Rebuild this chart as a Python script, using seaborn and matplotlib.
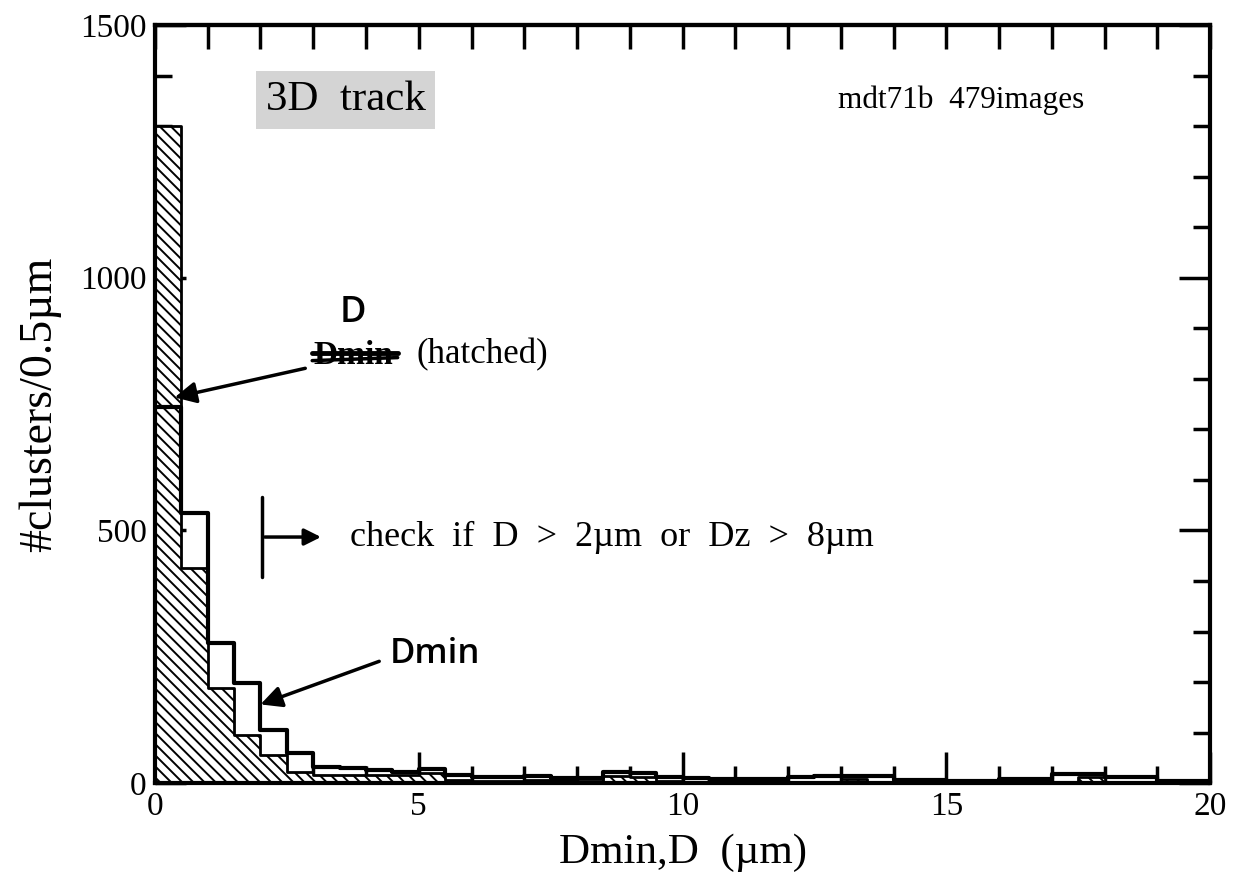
import numpy as np
import pandas as pd
import matplotlib
matplotlib.use('Agg')
import matplotlib.pyplot as plt
import seaborn as sns

# bin layout: 0.5 um bins from 0 to 20 um
bin_width = 0.5
bin_edges = list(np.arange(0, 20 + bin_width, bin_width))

# counts per bin
# D (hatched histogram)
d_counts = [1300, 426, 188, 95, 55, 22, 16, 16, 16, 16,
            20, 6, 4, 4, 6, 6, 4, 14, 12, 4,
            2, 2, 2, 2, 3, 3, 8, 3, 2, 2,
            2, 2, 2, 2, 3, 12, 3, 2, 2, 2]
# Dmin (open histogram)
dmin_counts = [745, 535, 277, 198, 105, 59, 32, 30, 26, 22,
               28, 16, 12, 12, 14, 10, 10, 22, 20, 12,
               10, 8, 8, 8, 12, 14, 14, 14, 6, 6,
               4, 4, 8, 8, 18, 18, 12, 12, 4, 4]

df = pd.DataFrame({
    'pos': np.array(bin_edges[:-1]) + bin_width / 2,
    'D': d_counts,
    'Dmin': dmin_counts,
})

sns.set_style('ticks')
plt.rcParams['font.family'] = ['Liberation Serif', 'DejaVu Serif']
plt.rcParams['hatch.linewidth'] = 1.4
plt.rcParams['hatch.color'] = 'black'
# plain black like the scanned plot
for k in ['text.color', 'axes.labelcolor', 'axes.edgecolor', 'xtick.color', 'ytick.color']:
    plt.rcParams[k] = 'black'

fig = plt.figure(figsize=(12.34, 8.8), dpi=100)
ax = fig.add_axes([0.1256, 0.110, 0.855, 0.8616])

# hatched D histogram
sns.histplot(data=df, x='pos', weights='D', bins=bin_edges, element='step',
             fill=True, color='white', edgecolor='black', linewidth=2,
             hatch='\\\\\\', alpha=1, ax=ax)
# open Dmin histogram
sns.histplot(data=df, x='pos', weights='Dmin', bins=bin_edges, element='step',
             fill=False, color='black', linewidth=3, ax=ax)

ax.set_xlim(0, 20)
ax.set_ylim(0, 1500)
ax.set_xticks([0, 5, 10, 15, 20])
ax.set_xticks(np.arange(0, 21, 1), minor=True)
ax.set_yticks([0, 500, 1000, 1500])
ax.set_yticks(np.arange(0, 1501, 100), minor=True)
ax.tick_params(which='major', direction='in', length=22, width=2.5,
               labelsize=24, top=False, right=True, pad=6)
ax.tick_params(which='minor', direction='in', length=12, width=2.5,
               top=False, right=True)
for s in ax.spines.values():
    s.set_linewidth(3)

# top axis: equal ticks every 1 um
sec = ax.secondary_xaxis('top')
sec.set_xticks(np.arange(0, 21, 1))
sec.tick_params(direction='in', length=17, width=2.5, labeltop=False)
sec.spines['top'].set_linewidth(3)

ax.set_xlabel('Dmin,D  (\u00b5m)', fontsize=31, labelpad=8)
ax.set_ylabel('#clusters/0.5\u00b5m', fontsize=33, labelpad=14)

# labels and annotations
ax.text(2.1, 1352, '3D  track', fontsize=31, va='center', ha='left',
        bbox=dict(boxstyle='square,pad=0.22', facecolor='#d4d4d4', edgecolor='none'))
ax.text(12.95, 1352, 'mdt71b  479images', fontsize=22.5, va='center', ha='left')

# crossed out "Dmin" with handwritten "D" above it
ax.text(3.0, 847, 'Dmin', fontsize=24, fontweight='bold', va='center', ha='left')
ax.plot([2.98, 4.6], [851, 851], color='black', lw=3.5)
ax.plot([2.98, 4.6], [836, 842], color='black', lw=2.5)
ax.text(3.5, 930, 'D', fontsize=26, fontweight='semibold',
        family=['Open Sans', 'DejaVu Sans'], va='center', ha='left')
ax.text(4.95, 847, '(hatched)', fontsize=25, va='center', ha='left')
ax.annotate('', xy=(0.32, 762), xytext=(2.9, 822),
            arrowprops=dict(arrowstyle='-|>', color='black', lw=2.5, mutation_scale=32))

# handwritten Dmin label for the open histogram
ax.text(4.45, 255, 'Dmin', fontsize=25, fontweight='semibold',
        family=['Open Sans', 'DejaVu Sans'], va='center', ha='left')
ax.annotate('', xy=(1.95, 154), xytext=(4.3, 243),
            arrowprops=dict(arrowstyle='-|>', color='black', lw=2.5, mutation_scale=32))

# cut marker at D = 2 um
ax.plot([2.03, 2.03], [408, 566], color='black', lw=2.5)
ax.annotate('', xy=(3.2, 487), xytext=(2.03, 487),
            arrowprops=dict(arrowstyle='-|>', color='black', lw=2.5, mutation_scale=25))
ax.text(3.7, 487, 'check  if  D  >  2\u00b5m  or  Dz  >  8\u00b5m', fontsize=26,
        va='center', ha='left')

fig.savefig('out.png', dpi=100, facecolor='white')
